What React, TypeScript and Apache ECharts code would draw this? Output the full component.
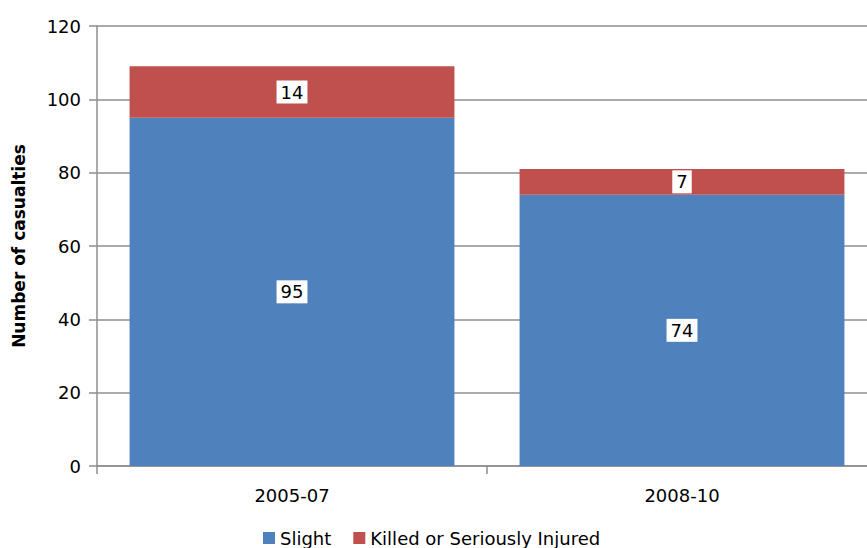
import React, { useEffect, useRef } from "react";
import * as echarts from "echarts";

const categories = ["2005-07", "2008-10"];
const slight = [95, 74];
const killedOrSeriouslyInjured = [14, 7];
const yTicks = { min: 0, max: 120, interval: 20 };

const FONT = "'DejaVu Sans', Tahoma, Verdana, sans-serif";
const AXIS_GRAY = "#8e8e8e";

export default function App() {
  const ref = useRef<HTMLDivElement>(null);

  useEffect(() => {
    if (!ref.current) return;
    const chart = echarts.init(ref.current, null, { renderer: "svg" });

    const label = {
      show: true,
      position: "inside",
      color: "#000",
      fontFamily: FONT,
      fontSize: 18,
      backgroundColor: "#fff",
      padding: [3, 4, 2, 4],
    };

    chart.setOption({
      animation: false,
      backgroundColor: "#fff",
      textStyle: { fontFamily: FONT },
      grid: { left: 97, top: 26, width: 780, height: 440, containLabel: false },
      legend: {
        data: ["Slight", "Killed or Seriously Injured"],
        left: 258,
        top: 523,
        itemWidth: 12,
        itemHeight: 12,
        itemGap: 22,
        icon: "rect",
        textStyle: { fontFamily: FONT, fontSize: 18, color: "#000", lineHeight: 20 },
      },
      xAxis: {
        type: "category",
        data: categories,
        axisLine: { lineStyle: { color: AXIS_GRAY, width: 1.5 } },
        axisTick: { show: true, length: 8, alignWithLabel: false, lineStyle: { color: AXIS_GRAY, width: 1.5 } },
        axisLabel: { color: "#000", fontFamily: FONT, fontSize: 18, margin: 20 },
      },
      yAxis: {
        type: "value",
        min: yTicks.min,
        max: yTicks.max,
        interval: yTicks.interval,
        name: "Number of casualties",
        nameLocation: "middle",
        nameGap: 70,
        nameTextStyle: { fontFamily: FONT, fontSize: 17, fontWeight: "bold", color: "#000" },
        axisLine: { show: true, lineStyle: { color: AXIS_GRAY, width: 1.5 } },
        axisTick: { show: true, length: 8, lineStyle: { color: AXIS_GRAY, width: 1.5 } },
        axisLabel: { color: "#000", fontFamily: FONT, fontSize: 18, margin: 16 },
        splitLine: { show: true, lineStyle: { color: AXIS_GRAY, width: 1.5 } },
      },
      series: [
        {
          name: "Slight",
          type: "bar",
          stack: "total",
          data: slight,
          barCategoryGap: "16.7%",
          itemStyle: { color: "#4F81BD" },
          label,
        },
        {
          name: "Killed or Seriously Injured",
          type: "bar",
          stack: "total",
          data: killedOrSeriouslyInjured,
          barCategoryGap: "16.7%",
          itemStyle: { color: "#C0504D" },
          label,
        },
      ],
    });

    return () => chart.dispose();
  }, []);

  // The plot runs slightly past the right edge, so the chart is wider than its frame.
  return (
    <div style={{ width: 867, height: 548, position: "absolute", left: 0, top: 0, overflow: "hidden" }}>
      <div ref={ref} style={{ width: 877, height: 548 }} />
    </div>
  );
}
